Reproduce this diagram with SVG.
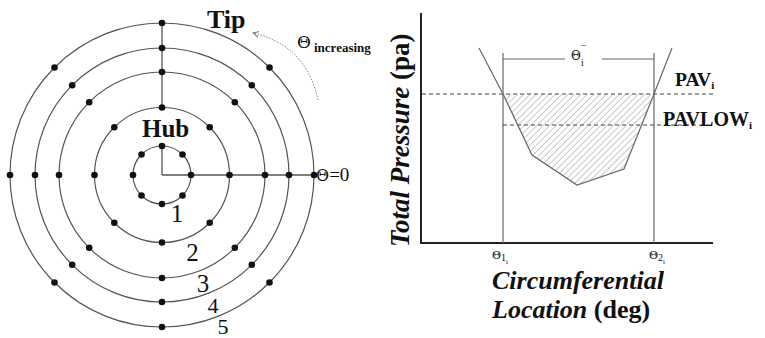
<svg xmlns="http://www.w3.org/2000/svg" width="765" height="338" viewBox="0 0 765 338">
<style>
.ring{fill:none;stroke:#555;stroke-width:1.2}
.dot{fill:#111}
.ln{stroke:#555;stroke-width:1.3;fill:none}
.ax{stroke:#222;stroke-width:2;fill:none}
.gl{stroke:#666;stroke-width:1.2;fill:none}
.dash{stroke:#444;stroke-width:1;stroke-dasharray:4 3;fill:none}
.sf{font-family:"Liberation Serif","Times New Roman",serif;fill:#111}
.th{font-family:"DejaVu Serif","Liberation Serif",serif}
.b{font-weight:bold}
.bi{font-weight:bold;font-style:italic}
</style>
<defs>
<pattern id="hatch" width="4.5" height="4.5" patternUnits="userSpaceOnUse" patternTransform="rotate(45)">
<line x1="0" y1="0" x2="0" y2="4.5" stroke="#8a8a8a" stroke-width="0.9"/>
</pattern>
<marker id="ah" markerWidth="8" markerHeight="8" refX="6" refY="4" orient="auto" markerUnits="userSpaceOnUse">
<path d="M0,1 L6,4 L0,7" fill="none" stroke="#777" stroke-width="1"/>
</marker>
</defs>
<rect width="765" height="338" fill="#fff"/>

<g id="polar">
<g id="rings">
<circle class="ring" cx="162" cy="175" r="29"/>
<circle class="ring" cx="162" cy="175" r="67.5"/>
<circle class="ring" cx="162" cy="175" r="103"/>
<circle class="ring" cx="162" cy="175" r="127"/>
<circle class="ring" cx="162" cy="175" r="152"/>
</g>
<g id="connectors">
<line class="ln" x1="162" y1="175" x2="162" y2="146"/>
<line class="ln" x1="162" y1="107.5" x2="162" y2="23"/>
<line class="ln" x1="162" y1="175" x2="314" y2="175"/>
<path d="M318,100 Q306,45 253,33" fill="none" stroke="#777" stroke-width="1" stroke-dasharray="1.5 1.5" marker-end="url(#ah)"/>
</g>
<g id="points">
<circle class="dot" cx="162" cy="146" r="3.3"/><circle class="dot" cx="182.5" cy="154.5" r="3.3"/><circle class="dot" cx="191" cy="175" r="3.3"/><circle class="dot" cx="182.5" cy="195.5" r="3.3"/><circle class="dot" cx="162" cy="204" r="3.3"/><circle class="dot" cx="141.5" cy="195.5" r="3.3"/><circle class="dot" cx="133" cy="175" r="3.3"/><circle class="dot" cx="141.5" cy="154.5" r="3.3"/>
<circle class="dot" cx="162" cy="107.5" r="3.3"/><circle class="dot" cx="209.7" cy="127.3" r="3.3"/><circle class="dot" cx="229.5" cy="175" r="3.3"/><circle class="dot" cx="209.7" cy="222.7" r="3.3"/><circle class="dot" cx="162" cy="242.5" r="3.3"/><circle class="dot" cx="114.3" cy="222.7" r="3.3"/><circle class="dot" cx="94.5" cy="175" r="3.3"/><circle class="dot" cx="114.3" cy="127.3" r="3.3"/>
<circle class="dot" cx="162" cy="72" r="3.3"/><circle class="dot" cx="234.8" cy="102.2" r="3.3"/><circle class="dot" cx="265" cy="175" r="3.3"/><circle class="dot" cx="234.8" cy="247.8" r="3.3"/><circle class="dot" cx="162" cy="278" r="3.3"/><circle class="dot" cx="89.2" cy="247.8" r="3.3"/><circle class="dot" cx="59" cy="175" r="3.3"/><circle class="dot" cx="89.2" cy="102.2" r="3.3"/>
<circle class="dot" cx="162" cy="48" r="3.3"/><circle class="dot" cx="251.8" cy="85.2" r="3.3"/><circle class="dot" cx="289" cy="175" r="3.3"/><circle class="dot" cx="251.8" cy="264.8" r="3.3"/><circle class="dot" cx="162" cy="302" r="3.3"/><circle class="dot" cx="72.2" cy="264.8" r="3.3"/><circle class="dot" cx="35" cy="175" r="3.3"/><circle class="dot" cx="72.2" cy="85.2" r="3.3"/>
<circle class="dot" cx="162" cy="23" r="3.3"/><circle class="dot" cx="269.5" cy="67.5" r="3.3"/><circle class="dot" cx="314" cy="175" r="3.3"/><circle class="dot" cx="269.5" cy="282.5" r="3.3"/><circle class="dot" cx="162" cy="327" r="3.3"/><circle class="dot" cx="54.5" cy="282.5" r="3.3"/><circle class="dot" cx="10" cy="175" r="3.3"/><circle class="dot" cx="54.5" cy="67.5" r="3.3"/>
</g>
<g id="polar-labels">
<text class="sf b" x="207" y="28" font-size="26">Tip</text>
<text class="sf b" x="142" y="137" font-size="25">Hub</text>
<text class="sf th" x="297" y="48" font-size="17">Θ</text>
<text class="sf b" x="314" y="52" font-size="13">increasing</text>
<text class="sf" x="316" y="181" font-size="19"><tspan class="th" font-size="16">Θ</tspan>=0</text>
<text class="sf" x="177" y="222" font-size="25" text-anchor="middle">1</text>
<text class="sf" x="192.5" y="261" font-size="25" text-anchor="middle">2</text>
<text class="sf" x="203" y="292" font-size="25" text-anchor="middle">3</text>
<text class="sf" x="213" y="313" font-size="22" text-anchor="middle">4</text>
<text class="sf" x="223" y="334" font-size="22" text-anchor="middle">5</text>
</g>
</g>

<g id="chart">
<polygon points="503,94 532,155 577,185 624,169 654,94" fill="url(#hatch)" stroke="none"/>
<g id="chart-lines">
<line class="ax" x1="421" y1="13" x2="421" y2="243"/>
<line class="ax" x1="420" y1="243" x2="713" y2="243"/>
<line class="gl" x1="503" y1="53" x2="503" y2="243"/>
<line class="gl" x1="654" y1="53" x2="654" y2="243"/>
<line class="gl" x1="503" y1="59" x2="565" y2="59"/>
<line class="gl" x1="602" y1="59" x2="654" y2="59"/>
<line class="dash" x1="422" y1="94" x2="715" y2="94"/>
<line class="dash" x1="503" y1="125" x2="710" y2="125"/>
<polyline class="gl" points="479,48 503,94 532,155 577,185 624,169 654,94 672,48"/>
</g>
<g id="chart-labels">
<text class="sf th" x="571" y="60" font-size="12">Θ</text>
<text class="sf" x="581" y="53" font-size="10">¯</text>
<text class="sf" x="581" y="66" font-size="10">i</text>
<text class="sf b" x="675" y="86" font-size="19.5">PAV<tspan font-size="11" dy="3">i</tspan></text>
<text class="sf b" x="663" y="126" font-size="20">PAVLOW<tspan font-size="11" dy="3">i</tspan></text>
<text class="sf" x="492" y="259" font-size="13"><tspan class="th" font-size="11">Θ</tspan><tspan font-size="10" dy="2">1</tspan><tspan font-size="7" dy="3">i</tspan></text>
<text class="sf" x="649" y="259" font-size="13"><tspan class="th" font-size="11">Θ</tspan><tspan font-size="10" dy="2">2</tspan><tspan font-size="7" dy="3">i</tspan></text>
<text class="sf bi" x="492" y="289" font-size="26">Circumferential</text>
<text class="sf" x="492" y="318" font-size="26"><tspan class="bi">Location</tspan><tspan class="b"> (deg)</tspan></text>
<text class="sf" transform="translate(409,247) rotate(-90)" x="0" y="0" font-size="27"><tspan class="bi">Total Pressure</tspan><tspan class="b"> (pa)</tspan></text>
</g>
</g>
</svg>
